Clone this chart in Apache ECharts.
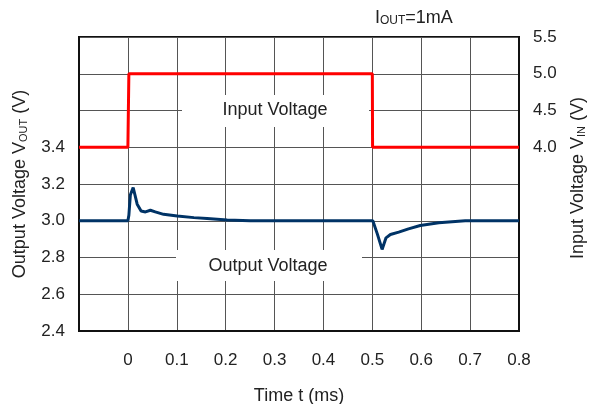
<!DOCTYPE html>
<html>
<head>
<meta charset="utf-8">
<script src="https://cdn.jsdelivr.net/npm/echarts@6/dist/echarts.min.js"></script>
<style>
html,body{margin:0;padding:0;background:#fff;overflow:hidden;}
#c{width:589px;height:404px;}
</style>
</head>
<body>
<div id="c"></div>
<script>
// Time axis (ms)
var xTicks = [-0.1, 0, 0.1, 0.2, 0.3, 0.4, 0.5, 0.6, 0.7, 0.8];
// Left axis ticks (Output voltage, V) – labels shown up to 3.4
var leftTicks = [2.4, 2.6, 2.8, 3.0, 3.2, 3.4];
// Right axis ticks (Input voltage, V) – labels shown from 4.0
var rightTicks = [4.0, 4.5, 5.0, 5.5];

// Input voltage step (time ms, V)
var vinTime = [-0.1, 0, 0.002, 0.5, 0.5005, 0.8];
var vinVal  = [4.0, 4.0, 5.0, 5.0, 4.0, 4.0];

// Output voltage response (time ms, V)
var voutTime = [-0.1, 0, 0.002, 0.005, 0.0108, 0.019, 0.027, 0.036, 0.046, 0.056, 0.073, 0.101, 0.135, 0.162, 0.203, 0.25, 0.35, 0.45, 0.501, 0.51, 0.52, 0.528, 0.537, 0.554, 0.574, 0.598, 0.636, 0.69, 0.75, 0.8];
var voutVal  = [3.0, 3.0, 3.03, 3.14, 3.181, 3.09, 3.053, 3.048, 3.057, 3.048, 3.035, 3.026, 3.017, 3.012, 3.004, 3.0, 3.0, 3.0, 3.0, 2.93, 2.844, 2.907, 2.925, 2.938, 2.956, 2.974, 2.989, 3.0, 3.0, 3.0];

function pairs(xs, ys){ return xs.map(function(x,i){ return [x, ys[i]]; }); }

var FONT = 'Liberation Sans, Arial, sans-serif';
var chart = echarts.init(document.getElementById('c'), null, {renderer:'canvas', width: 589, height: 404});

var option = {
  animation: false,
  backgroundColor: '#fff',
  textStyle: {fontFamily: FONT},
  grid: {left: 79, top: 37, width: 440, height: 294, outerBoundsMode: 'none', containLabel: false,
         show: true, borderColor: '#111', borderWidth: 2, backgroundColor: 'transparent'},
  xAxis: {
    type: 'value', min: xTicks[0], max: xTicks[xTicks.length-1], interval: 0.1,
    name: 'Time t (ms)', nameLocation: 'middle', nameGap: 56,
    nameTextStyle: {fontSize: 18, color: '#222', fontFamily: FONT},
    axisLine: {show: true, onZero: false, lineStyle: {color: '#111', width: 2}},
    axisTick: {show: false},
    axisLabel: {fontSize: 17, color: '#222', margin: 21, fontFamily: FONT,
      formatter: function(v){ if (v < -0.05) return ''; if (Math.abs(v) < 1e-9) return '0'; return v.toFixed(1); }},
    splitLine: {show: true, lineStyle: {color: '#555', width: 1}}
  },
  yAxis: [{
    type: 'value', min: 2.4, max: 4.0, interval: 0.2, position: 'left',
    name: '{a|Output Voltage V}{s|OUT}{a| (V)}', nameLocation: 'middle', nameGap: 50,
    nameTextStyle: {color: '#222', fontFamily: FONT, rich: {
      a: {fontSize: 18, color: '#222', fontFamily: FONT},
      s: {fontSize: 11, color: '#222', fontFamily: FONT, verticalAlign: 'bottom', padding: [6,0,0,0]}
    }},
    axisLine: {show: true, onZero: false, lineStyle: {color: '#111', width: 2}},
    axisTick: {show: false},
    axisLabel: {fontSize: 17, color: '#222', margin: 14, fontFamily: FONT,
      formatter: function(v){ return (v > leftTicks[leftTicks.length-1] + 0.01) ? '' : v.toFixed(1); }},
    splitLine: {show: true, lineStyle: {color: '#555', width: 1}}
  }, {
    type: 'value', min: 1.5, max: 5.5, interval: 0.5, position: 'right',
    name: '{a|Input Voltage V}{s|IN}{a| (V)}', nameLocation: 'middle', nameGap: 50,
    nameTextStyle: {color: '#222', fontFamily: FONT, padding: [0,0,0,12], rich: {
      a: {fontSize: 18, color: '#222', fontFamily: FONT},
      s: {fontSize: 11, color: '#222', fontFamily: FONT, verticalAlign: 'bottom', padding: [6,0,0,0]}
    }},
    axisLine: {show: true, onZero: false, lineStyle: {color: '#111', width: 2}},
    axisTick: {show: false},
    axisLabel: {fontSize: 17, color: '#222', margin: 14, fontFamily: FONT,
      formatter: function(v){ return (v < rightTicks[0] - 0.01) ? '' : v.toFixed(1); }},
    splitLine: {show: false}
  }],
  graphic: [
    {type: 'rect', z: 1, shape: {x: 182, y: 95, width: 187, height: 32}, style: {fill: '#fff'}},
    {type: 'rect', z: 1, shape: {x: 176, y: 250, width: 186, height: 31}, style: {fill: '#fff'}},
    {type: 'text', z: 3, x: 275, y: 110, style: {text: 'Input Voltage', font: '18px ' + FONT, fill: '#222', align: 'center', verticalAlign: 'middle'}},
    {type: 'text', z: 3, x: 268, y: 266, style: {text: 'Output Voltage', font: '18px ' + FONT, fill: '#222', align: 'center', verticalAlign: 'middle'}},
    {type: 'text', z: 3, x: 375, y: 18, style: {
      text: '{a|I}{s|OUT}{a|=1mA}', align: 'left', verticalAlign: 'middle',
      rich: {a: {fontSize: 18, fontFamily: FONT, fill: '#222'}, s: {fontSize: 12, fontFamily: FONT, fill: '#222', verticalAlign: 'bottom', padding: [5,0,0,0]}}
    }}
  ],
  series: [{
    type: 'line', yAxisIndex: 1, data: pairs(vinTime, vinVal), showSymbol: false, z: 4,
    lineStyle: {color: '#ff0000', width: 3}, itemStyle: {color: '#ff0000'}
  }, {
    type: 'line', yAxisIndex: 0, data: pairs(voutTime, voutVal), showSymbol: false, z: 5,
    lineStyle: {color: '#003366', width: 3}, itemStyle: {color: '#003366'}
  }]
};
chart.setOption(option);
</script>
</body>
</html>
